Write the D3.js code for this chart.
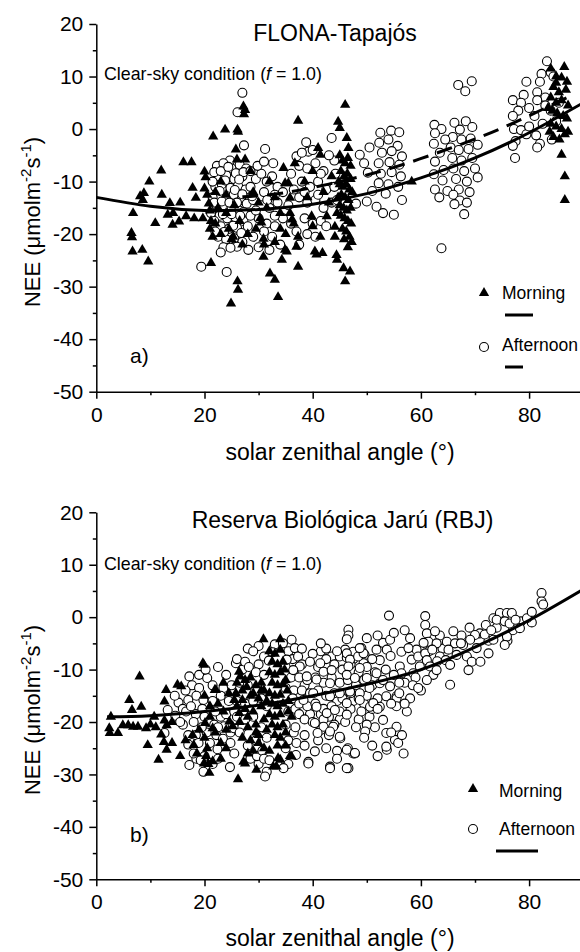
<!DOCTYPE html>
<html><head><meta charset="utf-8">
<script src="https://cdn.jsdelivr.net/npm/d3@7"></script>
<style>body{margin:0;background:#fff}svg{display:block}text{font-family:"Liberation Sans",Arial,sans-serif;fill:#000}</style>
</head><body><svg id="c" width="580" height="952"></svg>
<script>
const xTicks = [0,20,40,60,80];
const xMinor = [10,30,50,70,90];
const yTicks = [-50,-40,-30,-20,-10,0,10,20];
const yMinor = [-45,-35,-25,-15,-5,5,15];
const panelTitles = ["FLONA-Tapajós","Reserva Biológica Jarú (RBJ)"];
const panelLabels = ["a)","b)"];
const seriesNames = ["Morning","Afternoon"];

const tapajosMorning = [[6.5,-19.8],[6.6,-20.6],[6.7,-23.3],[8.5,-23.0],[9.6,-25.2],[6.8,-16.0],[8.1,-12.8],[8.8,-12.2],[8.6,-13.5],[9.8,-10.0],[12.0,-7.9],[12.1,-12.5],[10.9,-17.9],[13.6,-14.1],[15.5,-14.0],[14.2,-16.0],[13.2,-16.3],[14.1,-18.2],[15.3,-17.6],[16.6,-16.6],[18.1,-17.0],[19.7,-17.0],[16.1,-6.3],[17.6,-6.3],[17.8,-11.2],[18.4,-13.1],[20.0,-8.1],[20.2,-9.2],[20.0,-11.3],[20.5,-12.5],[20.8,-14.2],[21.0,-15.5],[21.2,-17.5],[21.0,-19.0],[21.5,-20.5],[21.2,-25.5],[21.6,-1.4],[23.8,-0.1],[26.1,-0.1],[27.2,4.3],[27.5,3.6],[27.3,2.8],[22.0,-12.0],[22.5,-15.0],[22.0,-18.0],[23.0,-20.0],[24.0,-16.0],[24.5,-19.0],[25.0,-21.0],[25.3,-20.5],[25.8,-3.9],[26.0,-5.8],[27.5,-5.8],[26.2,-0.5],[26.1,-29.0],[26.2,-30.6],[24.9,-33.2],[23.0,-10.0],[24.0,-12.5],[25.5,-14.5],[26.5,-17.5],[27.0,-22.0],[28.0,-20.0],
[30.9,-24.3],[32.1,-27.5],[33.0,-28.7],[33.6,-32.0],[34.3,-24.9],[35.2,-23.3],[37.3,-26.2],[34.9,-23.0],[37.0,-22.4],[37.3,-20.5],[30.9,-20.9],[30.3,-17.0],[30.5,-17.8],[35.8,-16.0],[36.2,-17.2],[36.5,-18.0],[34.6,-7.4],[35.5,-10.3],[35.8,-13.1],[36.7,-6.5],[37.3,1.6],[29.0,-12.0],[30.0,-14.0],[31.5,-15.0],[32.0,-10.0],[33.0,-13.0],[34.0,-16.0],[34.0,-19.0],[35.0,-20.0],[29.5,-19.0],[31.0,-22.0],[33.0,-21.5],[28.5,-8.0],[34.9,-10.3],
[39.8,-16.6],[40.0,-18.5],[42.6,-16.6],[41.4,-20.5],[40.4,-23.3],[41.8,-23.6],[40.7,-23.9],[41.0,-3.6],[41.4,-4.9],[44.5,-24.9],[45.7,-26.5],[46.9,-27.1],[46.0,-29.0],[44.7,1.4],[45.0,0.2],[46.0,4.6],[46.3,-1.7],[46.6,-3.6],[44.1,-18.6],[44.1,-20.5],[44.4,-24.0],[38.5,-10.0],[39.0,-13.0],[40.0,-8.0],[42.0,-12.0],[43.0,-14.0],[43.5,-9.0],
[45.0,-5.0],[45.5,-6.0],[46.0,-6.5],[46.5,-5.5],[47.0,-7.0],[45.2,-8.0],[45.8,-9.0],[46.4,-8.5],[47.0,-9.5],[45.0,-10.5],[45.6,-11.0],[46.2,-10.5],[46.8,-11.5],[47.3,-12.0],[45.3,-12.5],[46.0,-13.0],[46.6,-13.5],[45.0,-14.5],[45.7,-15.0],[46.3,-15.5],[47.0,-15.0],[45.2,-16.5],[45.9,-17.0],[46.5,-17.5],[47.1,-18.0],[45.5,-19.0],[46.2,-19.5],[46.8,-20.5],[45.8,-21.0],[47.2,-21.5],[46.5,-22.5],[44.5,-16.0],[44.7,-13.0],[44.8,-10.0],
[58.3,-10.0],
[84.0,11.5],[85.0,10.0],[86.5,11.8],[87.0,9.0],[84.5,8.0],[85.5,7.0],[86.8,7.5],[84.0,6.0],[85.0,5.0],[86.0,5.5],[87.2,4.5],[84.3,3.5],[85.2,3.0],[86.3,2.5],[87.0,2.0],[84.0,1.0],[85.0,0.5],[86.0,0.0],[87.2,-0.5],[84.5,-1.5],[85.6,-2.0],[86.6,-1.0],[83.5,4.0],[83.8,-0.5],[86.0,-4.9],[86.6,-9.0],[86.6,-13.5],[85.0,8.8],[86.0,9.8]];

const tapajosAfternoon = [[27.0,6.9],[26.1,3.2],[27.3,-3.1],[24.7,-6.0],[19.4,-26.2],[24.1,-27.2],[31.2,-3.8],
[22.3,-7.0],[23.5,-6.5],[25.0,-7.5],[26.5,-6.8],[27.7,-7.5],[22.5,-9.0],[24.0,-8.8],[25.5,-9.5],[27.0,-9.0],[22.0,-11.0],[23.2,-10.5],[24.8,-11.2],[26.2,-10.8],[27.6,-11.5],[22.6,-12.8],[24.0,-13.2],[25.4,-12.5],[26.8,-13.5],[22.2,-14.5],[23.6,-15.0],[25.0,-14.8],[26.4,-15.5],[27.8,-14.2],[22.8,-16.5],[24.2,-17.0],[25.7,-16.8],[27.2,-17.5],[23.0,-18.5],[24.5,-19.0],[26.0,-18.8],[22.5,-20.5],[24.0,-21.0],[25.5,-20.8],[27.0,-21.5],[23.5,-22.5],[26.0,-22.4],[28.1,-23.0],[21.5,-13.0],[21.2,-16.0],
[21.8,-8.2],[23.0,-8.0],[24.4,-7.2],[25.8,-8.4],[27.2,-8.2],[21.5,-10.0],[23.8,-9.8],[26.4,-9.6],[22.8,-11.8],[25.6,-11.6],[27.0,-12.4],[21.8,-14.0],[23.2,-13.8],[24.6,-14.0],[26.0,-14.0],[27.2,-15.8],[21.8,-17.5],[23.4,-16.2],[25.0,-16.2],[26.6,-16.5],[22.0,-19.5],[23.6,-19.6],[25.3,-18.4],[26.8,-19.8],[28.0,-18.5],[24.8,-22.6],[23.0,-23.5],
[28.5,-8.0],[29.5,-9.5],[30.5,-8.5],[31.5,-10.0],[32.7,-6.5],[32.5,-9.0],[33.5,-11.0],[31.0,-12.0],[29.0,-13.5],[30.5,-14.5],[32.0,-15.0],[33.5,-14.0],[30.0,-17.0],[31.5,-18.0],[33.0,-18.5],[34.5,-17.0],[32.5,-20.5],[34.0,-22.0],[29.0,-20.5],[28.5,-16.5],[33.0,-12.5],[34.5,-12.0],[37.0,-5.2],
[28.5,-11.0],[28.8,-12.8],[29.8,-7.0],[31.0,-6.2],[31.6,-13.5],[33.0,-16.5],[29.5,-15.5],[31.0,-19.5],[30.0,-22.5],[32.0,-23.0],[35.5,-14.5],[36.0,-18.0],
[38.8,-2.5],[39.2,-4.3],[37.5,-7.0],[39.0,-7.5],[40.5,-6.5],[42.0,-8.0],[43.5,-1.7],[44.0,-6.0],[38.0,-10.0],[39.5,-11.0],[41.0,-10.0],[42.5,-11.5],[44.0,-11.0],[37.5,-13.0],[39.0,-14.0],[40.5,-13.5],[42.0,-15.0],[43.5,-14.0],[38.5,-17.0],[40.0,-18.0],[41.5,-17.5],[37.0,-19.5],[39.0,-20.0],[36.0,-8.5],[36.5,-11.5],
[38.0,-4.5],[40.0,-4.0],[41.5,-8.5],[43.0,-5.0],[44.2,-8.5],[38.5,-12.0],[41.0,-12.5],[44.5,-13.5],[42.5,-18.5],[40.5,-20.5],[37.5,-22.0],
[48.7,-4.9],[50.2,-8.3],[48.0,-14.2],[50.0,-13.8],[51.8,-14.8],[53.0,-16.0],[56.5,-13.5],[55.0,-16.3],[52.5,-0.7],[54.5,-0.3],[56.0,-0.6],[52.3,-2.6],[54.0,-2.0],[55.7,-3.2],[52.8,-4.5],[54.6,-4.2],[56.5,-5.2],[52.2,-6.5],[54.2,-6.3],[56.0,-6.8],[52.6,-8.5],[54.6,-8.2],[56.3,-9.0],[52.2,-10.3],[54.0,-10.5],[55.8,-11.0],[51.0,-11.8],[53.5,-12.3],[49.5,-6.5],[50.5,-3.5],
[66.9,8.4],[69.4,9.1],[68.2,7.2],[62.5,0.8],[63.8,0.0],[62.6,-0.8],[66.2,1.2],[68.3,1.5],[67.2,-0.1],[69.5,0.4],[65.9,-1.5],[67.5,-2.0],[69.2,-1.8],[65.5,-3.5],[67.0,-4.0],[68.8,-3.8],[70.5,-3.0],[65.8,-5.5],[67.5,-6.0],[69.5,-5.5],[66.0,-7.5],[68.0,-8.0],[70.0,-7.5],[66.5,-9.5],[68.5,-10.0],[70.5,-9.2],[67.0,-11.5],[69.0,-12.0],[62.4,-2.8],[63.5,-4.5],[62.6,-6.2],[64.2,-7.8],[62.4,-8.6],[64.0,-9.8],[62.6,-11.5],[64.9,-11.8],[66.0,-12.5],[63.4,-13.0],[67.2,-13.6],[68.5,-14.0],[66.2,-14.3],[68.0,-16.2],[63.8,-22.7],[64.5,-2.0],
[83.3,12.9],[82.3,10.5],[84.0,10.8],[79.5,9.0],[82.0,9.0],[84.5,10.0],[79.0,6.5],[81.5,7.0],[83.0,6.0],[77.0,5.5],[78.5,5.0],[78.0,3.5],[77.0,2.5],[80.0,4.0],[81.5,5.5],[83.0,4.5],[84.0,3.5],[81.0,2.5],[77.2,0.0],[78.5,-0.2],[77.5,-2.3],[77.0,-3.2],[79.5,-1.0],[81.3,-1.2],[82.0,-2.8],[84.2,-2.0],[81.5,-3.5],[77.4,-5.5],[80.0,0.5],[82.5,1.0],[85.0,1.5],[85.5,5.0]];

const jaruMorning = [[2.7,-19.0],[2.4,-21.2],[2.5,-22.1],[4.0,-22.1],[4.9,-20.6],[5.9,-20.6],[6.8,-20.9],[7.7,-20.9],[9.2,-21.2],[6.1,-15.8],[8.3,-17.1],[6.6,-17.7],[8.0,-11.3],[10.7,-19.0],[9.5,-24.4],[11.5,-27.2],[12.9,-13.9],[15.0,-12.9],[15.7,-13.2],[12.6,-16.1],[12.6,-19.7],[13.0,-20.6],[12.0,-22.4],[12.5,-23.8],[13.0,-25.3],[15.5,-26.5],[18.6,-26.0],[19.7,-8.8],[22.1,-13.9],[17.8,-22.5],[18.0,-24.4],[20.0,-23.0],[20.5,-25.0],[20.3,-26.5],[19.9,-27.9],[20.7,-28.0],[20.9,-29.7],[21.5,-27.5],[26.2,-30.9],[27.5,-27.9],[29.6,-29.1],[33.3,-28.5],[33.6,-26.9],[35.8,-26.5],[36.1,-26.6],[26.4,-10.4],[25.5,-15.8],
[32.0,-6.5],[33.0,-7.0],[34.0,-6.2],[32.5,-8.5],[33.5,-9.0],[34.5,-8.5],[32.0,-10.5],[33.0,-11.0],[34.0,-10.5],[32.5,-12.5],[33.5,-13.0],[34.5,-12.8],[32.0,-14.5],[33.0,-15.0],[34.0,-14.8],[32.5,-16.5],[33.5,-17.0],[34.5,-16.5],[32.0,-18.5],[33.0,-19.0],[34.0,-18.5],[32.5,-20.5],[33.5,-21.0],[34.5,-20.5],[33.0,-22.5],[34.0,-23.0],[33.5,-24.5],[30.9,-4.2],[34.0,-4.2],
[26.6,-11.3],[27.5,-12.0],[28.5,-11.5],[29.5,-13.0],[30.5,-12.5],[27.0,-14.0],[28.5,-15.0],[30.0,-15.5],[31.0,-14.0],[26.0,-17.0],[27.5,-17.5],[29.0,-18.0],[30.5,-17.0],[26.5,-20.0],[28.0,-21.0],[29.5,-20.5],[31.0,-19.5],[27.0,-23.0],[28.5,-23.5],[30.0,-22.5],[31.0,-25.0],[29.0,-25.5],[27.2,-27.6],[32.7,-28.5],[34.0,-27.2],[36.1,-19.0],[35.0,-22.0],[35.5,-16.0],[35.0,-12.0],
[19.9,-9.1],[21.9,-13.9],[20.0,-15.0],[21.0,-17.0],[22.5,-16.5],[23.5,-18.0],[20.1,-20.2],[22.0,-22.0],[23.0,-24.0],[24.0,-21.5],[24.6,-19.9],[25.2,-20.8],[25.8,-14.5],[27.0,-15.8],[26.4,-18.3],[24.0,-25.0],[23.0,-27.0],[21.5,-21.2],
[26.0,-12.5],[27.8,-13.3],[29.0,-14.5],[30.5,-14.0],[31.5,-16.0],[28.0,-19.0],[29.5,-22.0],[31.5,-21.5],[30.0,-24.0],[28.0,-26.0],[32.0,-25.5],[35.0,-24.5],[34.8,-10.0],[35.3,-14.0],[35.5,-18.0],[24.5,-14.5],[23.5,-12.5],[21.0,-19.0],[19.0,-21.5],[16.5,-23.5],[14.0,-24.0],[11.0,-21.0],[10.0,-20.5],[14.0,-20.0]];

const jaruAfternoon = [[17.2,-11.3],[19.0,-11.0],[20.5,-11.6],[20.2,-10.0],[17.7,-13.0],[19.0,-13.5],[18.5,-15.0],[19.8,-15.8],[17.0,-15.8],[15.2,-16.3],[16.0,-17.5],[13.2,-17.7],[14.6,-18.8],[16.6,-18.0],[18.4,-18.5],[19.6,-17.5],[18.0,-20.0],[20.7,-20.0],[21.8,-20.5],[23.0,-19.0],[23.6,-20.8],[24.8,-22.0],[25.5,-21.2],[17.0,-22.5],[18.4,-22.5],[20.4,-22.0],[22.2,-22.5],[23.4,-23.2],[24.8,-24.0],[17.0,-24.3],[18.9,-24.0],[20.0,-26.5],[22.4,-25.2],[12.6,-22.1],[17.2,-28.2],[18.5,-27.0],[19.3,-27.3],[19.8,-29.5],[24.7,-28.6],[25.8,-8.8],[22.5,-9.5],[24.0,-11.0],[23.5,-13.5],[21.5,-13.0],[25.0,-13.0],[24.5,-16.0],[22.0,-18.0],[20.0,-19.0],[16.0,-20.5],
[14.5,-15.0],[16.5,-14.0],[15.5,-20.0],[17.5,-17.0],[19.5,-21.0],[21.0,-24.0],[21.5,-16.0],[23.0,-15.0],[22.5,-21.0],[24.0,-18.5],[18.0,-26.0],[21.5,-28.0],[22.5,-27.0],[25.5,-26.0],[25.5,-18.0],[27.0,-10.0],[28.0,-6.0],[30.0,-5.5],[27.0,-21.0],[28.5,-27.0],[30.0,-28.0],[31.5,-29.5],[35.5,-28.0],
[29.7,-26.5],[30.7,-25.5],[31.0,-27.0],[31.2,-30.4],[32.0,-27.3],[33.5,-28.0],[34.6,-28.8],[36.9,-26.3],[35.0,-25.0],
[26.0,-8.0],[27.5,-8.5],[29.0,-6.5],[28.2,-9.5],[30.0,-9.0],[31.0,-7.5],[33.0,-5.2],[34.5,-5.0],[35.5,-6.5],[36.3,-8.0],[35.0,-9.5],[36.5,-10.5],[26.5,-12.5],[28.0,-13.0],[29.5,-10.5],[31.0,-11.0],[35.0,-13.5],[36.5,-14.0],[26.0,-16.0],[27.5,-16.5],[29.0,-16.0],[30.5,-15.5],[31.5,-17.0],[35.5,-18.0],[36.8,-17.5],[26.0,-19.0],[27.5,-19.5],[29.0,-19.0],[30.5,-21.0],[35.0,-20.5],[36.5,-22.0],[26.5,-22.0],[28.0,-24.5],[29.5,-23.5],[31.5,-23.0],[35.5,-23.5],[36.8,-21.0],[36.1,-4.3],[36.7,-5.9],[37.3,-7.5],[32.6,-6.7],[31.9,-8.3],
[36.0,-11.5],[36.3,-15.5],[37.0,-24.0],[38.5,-22.5],[38.5,-24.5],[41.0,-23.5],[42.5,-25.0],[44.5,-25.5],[44.5,-27.0],[41.5,-6.5],[43.5,-7.5],[45.0,-7.5],[47.5,-8.0],[44.5,-16.0],[47.5,-16.0],[49.5,-16.5],[50.5,-19.0],[48.5,-19.5],[51.5,-21.0],[45.0,-19.5],[43.0,-19.0],[41.5,-18.5],[39.5,-18.5],[37.5,-18.5],[38.5,-13.0],
[46.0,-6.2],[47.5,-6.6],[49.0,-5.9],[49.6,-7.2],[46.3,-7.7],[49.4,-8.8],[46.6,-2.4],[46.6,-3.5],[44.5,-6.5],[42.5,-6.0],[40.0,-7.0],[41.5,-5.0],[38.0,-6.0],
[38.0,-9.0],[39.5,-8.5],[41.0,-9.5],[42.5,-8.0],[44.0,-9.0],[45.5,-10.0],[47.0,-9.0],[48.5,-10.5],[50.0,-9.5],[51.5,-10.5],[37.5,-11.5],[39.0,-12.0],[40.5,-11.5],[42.0,-12.5],[43.5,-11.5],[45.0,-12.5],[46.5,-12.0],[48.0,-13.0],[49.5,-12.0],[51.0,-13.0],[38.0,-14.0],[39.5,-14.5],[41.0,-14.0],[42.5,-15.0],[44.0,-14.5],[45.5,-15.5],[47.0,-14.5],[48.5,-15.5],[50.0,-15.0],[52.0,-15.5],[37.5,-16.5],[39.0,-17.0],[40.5,-16.5],[42.0,-17.5],[43.5,-17.0],[45.0,-18.0],[47.0,-17.5],[49.0,-18.0],[51.0,-17.5],[38.5,-19.5],[40.0,-20.0],[42.0,-19.5],[44.0,-20.5],[46.0,-20.0],[48.0,-21.0],[50.0,-20.5],
[40.4,-25.6],[39.2,-27.6],[43.2,-28.5],[46.6,-28.8],[46.5,-25.0],[47.5,-26.0],[45.1,-23.1],[41.5,-21.5],[43.0,-22.5],[53.7,-25.3],[39.2,-27.9],[43.2,-28.8],[46.3,-28.8],[47.8,-26.0],
[35.2,-8.1],[37.6,-9.4],[36.4,-10.1],[38.9,-11.3],[41.4,-8.8],[42.0,-10.4],[43.5,-10.1],[40.7,-11.9],[43.2,-12.6],[46.3,-6.9],[46.9,-8.1],[48.4,-7.5],[49.4,-6.9],[46.6,-9.4],[48.7,-9.7],[46.3,-11.0],[47.8,-11.6],[50.0,-11.6],[51.8,-10.7],[52.4,-12.6],[54.3,-13.2],[55.5,-15.1],[53.6,-15.1],[48.7,-14.5],[46.9,-14.2],[45.0,-14.5],[43.2,-15.1],[40.1,-14.5],[38.3,-15.8],[40.7,-17.1],[42.6,-18.3],[44.1,-17.7],[46.3,-16.4],[46.3,-18.6],[48.7,-15.8],[50.6,-17.1],[52.4,-17.1],[53.0,-19.6],[53.6,-22.1],[55.2,-23.4],[55.5,-20.9],[57.4,-18.0],[55.5,-15.5],[51.2,-16.4],[40.4,-20.2],[42.0,-20.9],[43.8,-20.9],[40.9,-22.1],[43.2,-21.8],[45.0,-22.8],[46.3,-25.3],[47.8,-25.9],[53.6,-24.7],[55.8,-24.0],[49.7,-21.8],
[48.7,-5.9],[51.8,-6.2],[53.0,-4.9],[54.3,-4.3],[56.4,-6.6],[52.4,-8.2],[53.7,-6.2],[54.4,-7.4],[56.1,-9.4],[59.2,-6.2],[57.7,-5.9],[58.3,-8.1],[56.4,-10.7],[57.7,-11.9],[58.6,-10.7],[59.8,-9.4],[53.0,-12.0],[55.0,-11.0],[57.0,-12.5],[59.0,-11.5],[56.0,-14.5],[58.0,-15.5],[60.0,-14.0],[55.5,-17.0],[52.0,-17.5],[56.5,-22.5],[54.5,-22.0],[49.5,-23.0],[51.0,-24.5],[54.1,0.3],[46.3,-4.2],[58.0,-4.0],[57.0,-2.5],[55.0,-3.0],[52.0,-3.5],[50.0,-4.0],
[51.0,-8.0],[53.5,-10.0],[50.5,-13.5],[56.0,-12.5],[54.5,-16.5],[57.0,-16.5],[58.5,-13.0],[59.5,-7.5],[61.5,-6.5],[63.5,-3.5],[64.0,-6.0],[67.5,-3.5],[69.0,-2.0],[72.5,-4.5],[74.0,-2.0],[77.0,-2.5],[78.5,-0.8],[80.5,-1.0],[76.0,-4.5],[52.0,-26.5],[56.8,-26.0],
[60.8,0.2],[60.8,-1.5],[61.1,-3.1],[62.6,-2.7],[61.4,-4.7],[60.5,-4.9],[62.9,-5.0],[64.8,-4.7],[66.0,-2.7],[66.3,-5.0],[60.8,-6.9],[62.1,-6.2],[63.5,-7.5],[65.1,-6.2],[61.1,-8.2],[63.0,-8.4],[64.6,-8.2],[65.4,-9.1],[66.6,-7.2],[61.7,-9.4],[62.3,-11.0],[61.1,-12.0],[59.5,-13.5],[65.4,-12.9],[62.9,-10.1],
[73.4,-0.2],[74.6,0.8],[75.9,0.8],[76.8,0.8],[74.0,-0.5],[75.5,-0.8],[76.4,-1.2],[79.6,-0.2],[78.3,-2.1],[75.9,-3.7],[73.4,-4.3],[75.5,-5.3],[70.9,-3.1],[71.8,-3.3],[70.0,-3.4],[69.1,-4.3],[67.8,-5.3],[70.3,-5.9],[72.5,-6.9],[68.5,-7.5],[69.4,-8.5],[68.8,-10.1],[67.4,-5.0],[82.3,4.6],[82.3,3.0],[82.6,2.4],[72.0,-1.5],[77.5,-0.5],[80.5,1.0],[71.0,-8.5],[73.0,-2.5]];

const fitXTapajosMorning = [0,10,20,30,40,50,60,70,80,90];
const fitYTapajosMorning = [-13.0,-14.7,-15.5,-15.3,-14.3,-12.3,-9.3,-5.5,-0.7,5.0];
const fitXTapajosAfternoon = [27,35,45,55,65,75,87];
const fitYTapajosAfternoon = [-12.9,-12.1,-10.0,-7.3,-3.8,0.2,6.0];
const fitXJaru = [2,10,20,30,40,50,60,70,80,90];
const fitYJaru = [-19.0,-18.8,-18.0,-16.8,-15.0,-12.8,-10.0,-5.7,-0.6,5.3];

const svg = d3.select("#c");
const FONT = '"Liberation Sans",Arial,sans-serif';

const panels = [
  {top:24, bottom:391.7, title:panelTitles[0], titleX:335, titleY:41, clearY:80, label:panelLabels[0], labelY:363,
   morning:tapajosMorning, afternoon:tapajosAfternoon,
   fits:[{x:fitXTapajosMorning,y:fitYTapajosMorning,dash:null},{x:fitXTapajosAfternoon,y:fitYTapajosAfternoon,dash:"16,9"}],
   legend:{mx:484,my:293,tx:502,mty:299,cy:347,aty:351,lines:[{x1:505,x2:533,y:315},{x1:505,x2:523,y:367}]},
   ylabY:222, xtitleY:460},
  {top:512.3, bottom:879.3, title:panelTitles[1], titleX:342.5, titleY:528, clearY:570, label:panelLabels[1], labelY:842,
   morning:jaruMorning, afternoon:jaruAfternoon,
   fits:[{x:fitXJaru,y:fitYJaru,dash:null}],
   legend:{mx:473,my:789,tx:499,mty:797,cy:829,aty:835,lines:[{x1:496,x2:538,y:851}]},
   ylabY:710, xtitleY:946}
];

const x = d3.scaleLinear().domain([0,90]).range([96.3, 96.3+90*5.41]);

panels.forEach(p => {
  const y = d3.scaleLinear().domain([-50,20]).range([p.bottom, p.top]);
  const g = svg.append("g");

  g.append("g").attr("transform","translate(96.3,0)")
    .call(d3.axisLeft(y).tickValues(yTicks).tickSize(7).tickSizeOuter(0).tickPadding(6).tickFormat(d => String(d)));
  const yMin = g.append("g").attr("transform","translate(96.3,0)")
    .call(d3.axisLeft(y).tickValues(yMinor).tickSize(3.5).tickFormat(""));
  yMin.select(".domain").remove();
  g.append("g").attr("transform",`translate(0,${p.bottom})`)
    .call(d3.axisBottom(x).tickValues(xTicks).tickSize(7).tickSizeOuter(0).tickPadding(8).tickFormat(d => String(d)));
  const xMin = g.append("g").attr("transform",`translate(0,${p.bottom})`)
    .call(d3.axisBottom(x).tickValues(xMinor).tickSize(3.5).tickFormat(""));
  xMin.select(".domain").remove();
  g.selectAll(".domain, .tick line").attr("stroke","#000").attr("stroke-width",1.5);
  g.selectAll(".tick text").attr("font-size",21).attr("font-family",FONT).attr("fill","#000");

  g.append("g").selectAll("circle").data(p.afternoon).join("circle")
    .attr("cx",d=>x(d[0])).attr("cy",d=>y(d[1])).attr("r",4.5)
    .attr("fill","#fff").attr("stroke","#000").attr("stroke-width",1.1);
  const tri = d3.symbol().type(d3.symbolTriangle).size(46);
  g.append("g").selectAll("path").data(p.morning).join("path")
    .attr("d",tri).attr("transform",d=>`translate(${x(d[0])},${y(d[1])})`).attr("fill","#000");

  p.fits.forEach(f => {
    const pts = f.x.map((v,i)=>[v,f.y[i]]);
    g.append("path").datum(pts)
      .attr("d", d3.line().x(d=>x(d[0])).y(d=>y(d[1])).curve(d3.curveNatural))
      .attr("fill","none").attr("stroke","#000").attr("stroke-width",3)
      .attr("stroke-dasharray", f.dash);
  });

  g.append("text").attr("x",p.titleX).attr("y",p.titleY).attr("text-anchor","middle")
    .attr("font-size",23).text(p.title);
  const cs = g.append("text").attr("x",104).attr("y",p.clearY).attr("font-size",17.8);
  cs.append("tspan").text("Clear-sky condition (");
  cs.append("tspan").attr("font-style","italic").text("f");
  cs.append("tspan").text(" = 1.0)");
  g.append("text").attr("x",130).attr("y",p.labelY).attr("font-size",21).text(p.label);

  g.append("text").attr("x",340).attr("y",p.xtitleY).attr("text-anchor","middle")
    .attr("font-size",23).text("solar zenithal angle (°)");
  const yl = g.append("text").attr("transform",`translate(40,${p.ylabY}) rotate(-90)`)
    .attr("text-anchor","middle").attr("font-size",22);
  yl.append("tspan").text("NEE (μmolm");
  yl.append("tspan").attr("dy",-9).attr("font-size",15).text("-2");
  yl.append("tspan").attr("dy",9).text("s");
  yl.append("tspan").attr("dy",-9).attr("font-size",15).text("-1");
  yl.append("tspan").attr("dy",9).text(")");

  const L = p.legend;
  g.append("path").attr("d",tri).attr("transform",`translate(${L.mx},${L.my})`).attr("fill","#000");
  g.append("text").attr("x",L.tx).attr("y",L.mty).attr("font-size",17.5).text(seriesNames[0]);
  g.append("circle").attr("cx",L.mx).attr("cy",L.cy).attr("r",4.5).attr("fill","#fff").attr("stroke","#000").attr("stroke-width",1.1);
  g.append("text").attr("x",L.tx).attr("y",L.aty).attr("font-size",17.5).text(seriesNames[1]);
  L.lines.forEach(l => g.append("line").attr("x1",l.x1).attr("x2",l.x2).attr("y1",l.y).attr("y2",l.y)
    .attr("stroke","#000").attr("stroke-width",3));
});
</script></body></html>
